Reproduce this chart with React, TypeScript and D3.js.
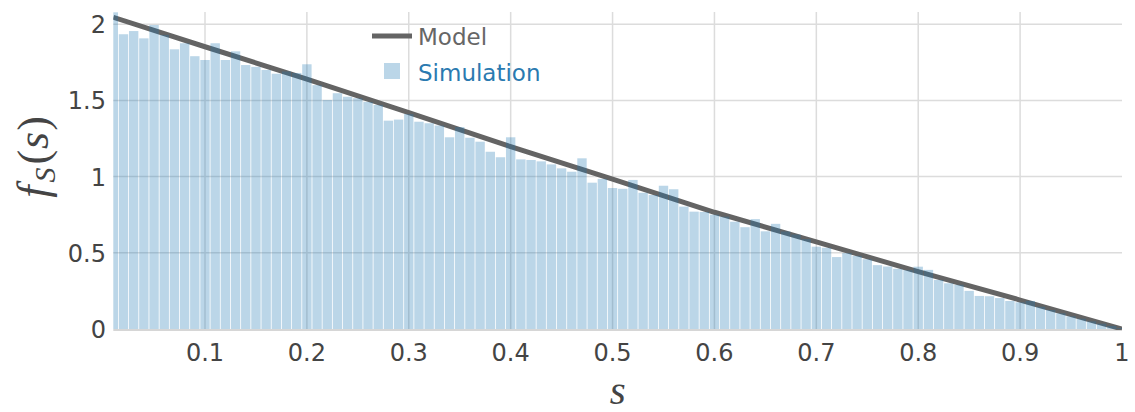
import React from "react";
import * as d3 from "d3";

// Histogram bins (centered at 0.01, 0.02, ..., 1.00; width 0.01)
const binStart = 0.005;
const binWidth = 0.01;
const simDensity = [
  2.078, 1.934, 1.955, 1.907, 1.995, 1.93, 1.835, 1.875, 1.79, 1.765,
  1.875, 1.765, 1.822, 1.732, 1.72, 1.7, 1.675, 1.69, 1.68, 1.737,
  1.6, 1.503, 1.547, 1.524, 1.514, 1.49, 1.47, 1.367, 1.374, 1.41,
  1.36, 1.35, 1.335, 1.258, 1.325, 1.255, 1.229, 1.163, 1.127, 1.258,
  1.113, 1.109, 1.1, 1.08, 1.054, 1.032, 1.12, 0.96, 0.985, 0.925,
  0.92, 0.978, 0.894, 0.879, 0.94, 0.917, 0.803, 0.77, 0.768, 0.75,
  0.737, 0.704, 0.668, 0.721, 0.641, 0.69, 0.64, 0.62, 0.59, 0.54,
  0.533, 0.472, 0.498, 0.48, 0.458, 0.419, 0.41, 0.395, 0.386, 0.409,
  0.388, 0.322, 0.3, 0.29, 0.25, 0.217, 0.215, 0.203, 0.184, 0.175,
  0.184, 0.146, 0.125, 0.103, 0.083, 0.068, 0.05, 0.035, 0.02, 0.006,
];

// Model curve, points
const modelS = [0.01, 0.1, 0.2, 0.3, 0.4, 0.5, 0.6, 0.7, 0.8, 0.9, 1];
const modelF = [2.045, 1.852, 1.64, 1.42, 1.196, 0.984, 0.766, 0.572, 0.376, 0.19, 0];

const xTicks = [0.1, 0.2, 0.3, 0.4, 0.5, 0.6, 0.7, 0.8, 0.9, 1];
const xTickLabels = ["0.1", "0.2", "0.3", "0.4", "0.5", "0.6", "0.7", "0.8", "0.9", "1"];
const yTicks = [0, 0.5, 1, 1.5, 2];
const yTickLabels = ["0", "0.5", "1", "1.5", "2"];

const W = 1135;
const H = 412;
const L = 113.3;
const R = 1122;
const T = 12;
const B = 329;

const BLUE = "#1f77b4";
const GRAY = "#646464";
const FONT = "'DejaVu Sans', Verdana, sans-serif";
const MATH = "'Liberation Serif', 'DejaVu Serif', serif";

export default function App() {
  const x = d3.scaleLinear().domain([0.01, 1]).range([L, R]);
  const y = d3.scaleLinear().domain([0, 2.08]).range([B, T]);

  const line = d3
    .line<number>()
    .x((_, i) => x(modelS[i]))
    .y((_, i) => y(modelF[i]));

  return (
    <svg
      width={W}
      height={H}
      style={{ position: "absolute", left: 0, top: 0, background: "#fff" }}
    >
      <defs>
        <clipPath id="plotclip">
          <rect x={L} y={T} width={R - L} height={B - T + 1} />
        </clipPath>
      </defs>

      {/* grid */}
      {xTicks
        .filter((t) => t < 1)
        .map((t) => (
          <line key={"gx" + t} x1={x(t)} x2={x(t)} y1={T} y2={B} stroke="#dcdcdc" strokeWidth={1.5} />
        ))}
      {yTicks
        .filter((t) => t > 0)
        .map((t) => (
          <line key={"gy" + t} x1={L} x2={R} y1={y(t)} y2={y(t)} stroke="#dcdcdc" strokeWidth={1.5} />
        ))}
      <line x1={L} x2={R} y1={B + 1} y2={B + 1} stroke="#d6d6d6" strokeWidth={2} />

      <g clipPath="url(#plotclip)">
        {/* model line (under bars) */}
        <path d={line(modelS) || ""} fill="none" stroke={GRAY} strokeWidth={5} strokeLinejoin="round" />
        {/* histogram bars */}
        {simDensity.map((v, i) => {
          const x0 = x(binStart + i * binWidth);
          const x1 = x(binStart + (i + 1) * binWidth);
          return (
            <rect
              key={"b" + i}
              x={x0 + 0.4}
              width={x1 - x0 - 0.8}
              y={y(v)}
              height={y(0) - y(v)}
              fill={BLUE}
              fillOpacity={0.3}
            />
          );
        })}
      </g>

      {/* x tick labels */}
      {xTicks.map((t, i) => (
        <text
          key={"xt" + t}
          x={x(t)}
          y={361}
          textAnchor="middle"
          fontFamily={FONT}
          fontSize={24}
          fill="#444"
        >
          {xTickLabels[i]}
        </text>
      ))}
      {/* y tick labels */}
      {yTicks.map((t, i) => (
        <text
          key={"yt" + t}
          x={106}
          y={y(t) + 9}
          textAnchor="end"
          fontFamily={FONT}
          fontSize={24}
          fill="#444"
        >
          {yTickLabels[i]}
        </text>
      ))}

      {/* axis titles */}
      <text x={(L + R) / 2} y={404} textAnchor="middle" fontFamily={MATH} fontStyle="italic" fontSize={41} fill="#444">
        s
      </text>
      <text
        transform={`translate(48, 157) rotate(-90)`}
        textAnchor="middle"
        fontFamily={MATH}
        fontSize={44}
        fill="#444"
      >
        <tspan fontStyle="italic">f</tspan>
        <tspan fontStyle="italic" fontSize={30} dy={7} dx={3}>S</tspan>
        <tspan dy={-7} dx={3}>(</tspan>
        <tspan fontStyle="italic" dx={1}>s</tspan>
        <tspan dx={1}>)</tspan>
      </text>

      {/* legend */}
      <line x1={372} x2={412} y1={36} y2={36} stroke={GRAY} strokeWidth={5} />
      <text x={418} y={45} fontFamily={FONT} fontSize={23} fill="#666">
        Model
      </text>
      <rect x={384} y={63} width={16} height={16} fill={BLUE} fillOpacity={0.3} />
      <text x={418} y={81} fontFamily={FONT} fontSize={23} fill="#2a7ab0">
        Simulation
      </text>
    </svg>
  );
}
